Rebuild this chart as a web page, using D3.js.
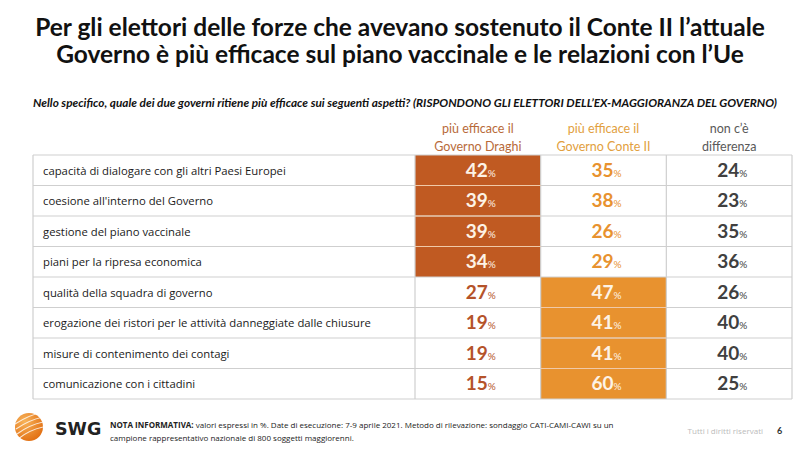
<!DOCTYPE html>
<html><head><meta charset="utf-8">
<script src="https://cdn.jsdelivr.net/npm/d3@7"></script>
<style>body{margin:0;background:#fff}svg{display:block}</style>
</head><body>
<svg id="c" width="800" height="450"></svg>
<script>
const titleLines = ["Per gli elettori delle forze che avevano sostenuto il Conte II l’attuale",
  "Governo è più efficace sul piano vaccinale e le relazioni con l’Ue"];
const subtitle = "Nello specifico, quale dei due governi ritiene più efficace sui seguenti aspetti? (RISPONDONO GLI ELETTORI DELL’EX-MAGGIORANZA DEL GOVERNO)";
const categories = ["capacità di dialogare con gli altri Paesi Europei","coesione all'interno del Governo","gestione del piano vaccinale","piani per la ripresa economica","qualità della squadra di governo","erogazione dei ristori per le attività danneggiate dalle chiusure","misure di contenimento dei contagi","comunicazione con i cittadini"];
const draghi = [42,39,39,34,27,19,19,15];
const conte = [35,38,26,29,47,41,41,60];
const noDiff = [24,23,35,36,26,40,40,25];
const columns = ["draghi","conte","nodiff"];
const headers = [["più efficace il","Governo Draghi"],["più efficace il","Governo Conte II"],["non c’è","differenza"]];

const colFill = {draghi:"#c05a22", conte:"#e8922f", nodiff:null};
const colText = {draghi:"#b5532a", conte:"#e8922f", nodiff:"#404040"};
const headColor = {draghi:"#b86a3a", conte:"#e2a040", nodiff:"#595959"};

const svg = d3.select("#c");
const F = "Lato, 'Open Sans', sans-serif";

// title
svg.selectAll("text.title").data(titleLines).join("text")
  .attr("x",400).attr("y",(d,i)=>36+i*27).attr("text-anchor","middle")
  .attr("font-family",F).attr("font-weight",700).attr("font-size",24.5).attr("fill","#111")
  .text(d=>d);
svg.append("text").attr("x",405).attr("y",107).attr("text-anchor","middle")
  .attr("font-family",F).attr("font-style","italic").attr("font-weight",700).attr("font-size",10.5)
  .attr("fill","#111").attr("textLength",744).attr("lengthAdjust","spacingAndGlyphs").text(subtitle);

const tableLeft = 33, tableRight = 792, labelRight = 415;
const y = d3.scaleBand().domain(d3.range(categories.length)).range([155,399]).paddingInner(0);
const x = d3.scaleBand().domain(columns).range([labelRight,tableRight]);

const rows = categories.map((c,i)=>({cat:c, draghi:draghi[i], conte:conte[i], nodiff:noDiff[i], win: draghi[i]>conte[i]?"draghi":"conte"}));

// headers
columns.forEach((c,ci)=>{
  svg.append("g").selectAll("text").data(headers[ci]).join("text")
    .attr("x",x(c)+x.bandwidth()/2).attr("y",(d,i)=>133+i*18).attr("text-anchor","middle")
    .attr("font-family",F).attr("font-size",12.5).attr("fill",headColor[c]).text(d=>d);
});

// highlighted cells
const cells = [];
rows.forEach((r,i)=>columns.forEach(c=>cells.push({i,c,v:r[c],hi:r.win===c})));
svg.append("g").selectAll("rect").data(cells.filter(d=>d.hi)).join("rect")
  .attr("x",d=>x(d.c)).attr("y",d=>y(d.i)).attr("width",x.bandwidth()).attr("height",y.bandwidth())
  .attr("fill",d=>colFill[d.c]);

// grid lines
const g = svg.append("g").attr("stroke","#cfcfcf").attr("stroke-width",1.2);
g.selectAll("line.h").data(d3.range(categories.length+1)).join("line")
  .attr("x1",tableLeft).attr("x2",tableRight)
  .attr("y1",d=>d===categories.length? y.range()[1] : y(d)).attr("y2",d=>d===categories.length? y.range()[1] : y(d));
g.selectAll("line.v").data([tableLeft, ...columns.map(c=>x(c)), tableRight]).join("line")
  .attr("x1",d=>d).attr("x2",d=>d).attr("y1",y.range()[0]).attr("y2",y.range()[1]);
// light lines inside highlighted cells
svg.append("g").selectAll("line").data(cells.filter(d=>d.hi && d.i>0 && rows[d.i-1].win===d.c)).join("line")
  .attr("x1",d=>x(d.c)).attr("x2",d=>x(d.c)+x.bandwidth()).attr("y1",d=>y(d.i)).attr("y2",d=>y(d.i))
  .attr("stroke","#f0c9a8").attr("stroke-width",1);

// labels
svg.append("g").selectAll("text").data(rows).join("text")
  .attr("x",tableLeft+10).attr("y",(d,i)=>y(i)+y.bandwidth()/2+4.5)
  .attr("font-family","'Open Sans', sans-serif").attr("font-size",11.3).attr("fill","#1a1a1a")
  .text(d=>d.cat);

// values
const vt = svg.append("g").selectAll("text").data(cells).join("text")
  .attr("x",d=>x(d.c)+x.bandwidth()/2+3).attr("y",d=>y(d.i)+y.bandwidth()/2+6.5)
  .attr("text-anchor","middle").attr("font-family",F).attr("font-weight",700)
  .attr("fill",d=>d.hi?"#fdf3e6":colText[d.c]);
vt.append("tspan").attr("font-size",19).text(d=>d.v);
vt.append("tspan").attr("font-size",10).attr("font-weight",400).text("%");

// footer logo
const logo = svg.append("g").attr("transform","translate(29,427)");
const grad = svg.append("defs").append("radialGradient").attr("id","lg").attr("cx","35%").attr("cy","30%").attr("r","75%");
grad.append("stop").attr("offset","0").attr("stop-color","#f7b35a");
grad.append("stop").attr("offset","1").attr("stop-color","#e26f12");
logo.append("circle").attr("r",14).attr("fill","url(#lg)");
[-6,-1,4,9].forEach((o,k)=>logo.append("path")
  .attr("d",`M${-14+k} ${o+3} Q 0 ${o-6} 14 ${o-9}`).attr("fill","none").attr("stroke","#fff").attr("stroke-width",1.2).attr("opacity",0.8));
svg.append("text").attr("x",55).attr("y",435).attr("font-family","'DejaVu Sans', sans-serif").attr("font-weight",700)
  .attr("font-size",17.5).attr("fill","#222").text("SWG");

const NF = "'Liberation Sans Narrow', 'Open Sans', sans-serif";
const note = svg.append("text").attr("x",110).attr("y",428).attr("font-family",NF).attr("font-size",8).attr("fill","#222");
note.append("tspan").attr("font-weight",700).text("NOTA INFORMATIVA:");
note.append("tspan").text(" valori espressi in %. Date di esecuzione: 7-9 aprile 2021. Metodo di rilevazione: sondaggio CATI-CAMI-CAWI su un");
svg.append("text").attr("x",110).attr("y",441).attr("font-family",NF).attr("font-size",8).attr("fill","#222")
  .text("campione rappresentativo nazionale di 800 soggetti maggiorenni.");
svg.append("text").attr("x",763).attr("y",434).attr("text-anchor","end").attr("font-family",NF).attr("font-size",8).attr("fill","#bbb").text("Tutti i diritti riservati");
svg.append("text").attr("x",777).attr("y",434).attr("font-family",F).attr("font-weight",700).attr("font-size",9).attr("fill","#333").text("6");
</script>
</body></html>
